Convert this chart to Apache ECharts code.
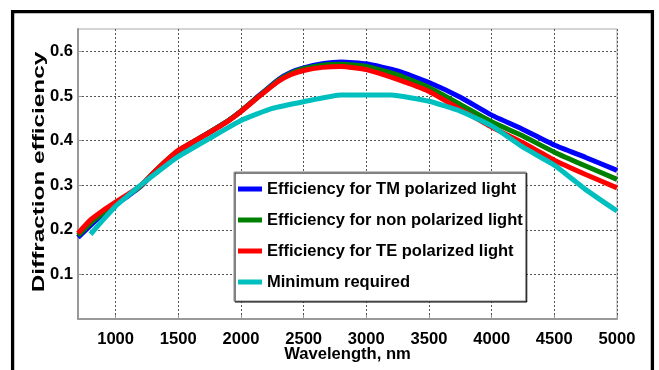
<!DOCTYPE html>
<html>
<head>
<meta charset="utf-8">
<script src="https://cdn.jsdelivr.net/npm/echarts@6/dist/echarts.min.js"></script>
<style>
  html, body { margin: 0; padding: 0; background: #fff; }
  #chart { width: 659px; height: 370px; }
</style>
</head>
<body>
<div id="chart"></div>
<script>
// Wavelength samples (nm) shared by the three simulated efficiency curves
const wavelengths = [700, 800, 900, 1000, 1100, 1200, 1300, 1400, 1500, 1750, 1900, 2000, 2150, 2300, 2400, 2500, 2650, 2800, 3000, 3250, 3500, 3750, 4000, 4250, 4500, 4750, 5000];
const tmValues  = [0.183, 0.210, 0.235, 0.256, 0.276, 0.297, 0.326, 0.353, 0.376, 0.419, 0.445, 0.466, 0.502, 0.537, 0.553, 0.563, 0.572, 0.576, 0.572, 0.556, 0.530, 0.497, 0.457, 0.425, 0.390, 0.362, 0.333];
const nonValues = [0.187, 0.215, 0.238, 0.258, 0.278, 0.298, 0.327, 0.354, 0.377, 0.419, 0.445, 0.466, 0.501, 0.535, 0.551, 0.561, 0.569, 0.571, 0.566, 0.547, 0.519, 0.481, 0.442, 0.410, 0.374, 0.343, 0.313];
const teValues  = [0.192, 0.222, 0.243, 0.262, 0.280, 0.299, 0.327, 0.354, 0.378, 0.418, 0.444, 0.465, 0.500, 0.533, 0.548, 0.557, 0.564, 0.566, 0.559, 0.537, 0.510, 0.470, 0.430, 0.395, 0.356, 0.324, 0.294];

// Minimum required efficiency curve
const minWavelengths = [800, 900, 1000, 1100, 1200, 1350, 1500, 1750, 2000, 2250, 2500, 2800, 3200, 3500, 3750, 4000, 4250, 4500, 4750, 5000];
const minValues      = [0.190, 0.222, 0.253, 0.277, 0.300, 0.333, 0.364, 0.405, 0.445, 0.472, 0.487, 0.502, 0.502, 0.488, 0.466, 0.433, 0.385, 0.345, 0.290, 0.242];

const seriesNames = [
  'Efficiency for TM polarized light',
  'Efficiency for non polarized light',
  'Efficiency for TE polarized light',
  'Minimum required'
];
const seriesColors = ['#0000ff', '#008000', '#ff0000', '#00bfbf'];

const xTicks = [1000, 1500, 2000, 2500, 3000, 3500, 4000, 4500, 5000];
const yTicks = [0.1, 0.2, 0.3, 0.4, 0.5, 0.6];

const FONT = "'Liberation Sans', Arial, Helvetica, sans-serif";

function pairs(xs, ys) {
  return xs.map((x, i) => [x, ys[i]]);
}

const chart = echarts.init(document.getElementById('chart'), null, { renderer: 'canvas' });

const gridLine = { show: true, lineStyle: { color: '#555', width: 1, type: [2, 2] } };

const option = {
  backgroundColor: '#fff',
  animation: false,
  grid: {
    left: 78, top: 29, right: 42, bottom: 51,
    outerBoundsMode: 'none', containLabel: false,
    show: true, borderColor: '#aaa', borderWidth: 1, backgroundColor: '#fff'
  },
  xAxis: {
    type: 'value', min: 700, max: 5000,
    name: 'Wavelength, nm', nameLocation: 'middle', nameGap: 27, nameMoveOverlap: false,
    nameTextStyle: { fontFamily: FONT, fontWeight: 'bold', fontSize: 16.6, color: '#000' },
    axisLine: { show: true, onZero: false, lineStyle: { color: '#999', width: 2 } },
    axisTick: { show: true, inside: true, length: 4, customValues: xTicks, lineStyle: { color: '#999' } },
    axisLabel: { customValues: xTicks, margin: 12, fontFamily: FONT, fontWeight: 'bold', fontSize: 16.6, color: '#000',
      formatter: v => String(v) },
    splitLine: gridLine
  },
  yAxis: {
    type: 'value', min: 0, max: 0.65,
    axisLine: { show: true, onZero: false, lineStyle: { color: '#999', width: 2 } },
    axisTick: { show: true, inside: true, length: 4, customValues: yTicks, lineStyle: { color: '#999' } },
    axisLabel: { customValues: yTicks, margin: 5, fontFamily: FONT, fontWeight: 'bold', fontSize: 16.6, color: '#000',
      formatter: v => v.toFixed(1) },
    splitLine: gridLine
  },
  legend: {
    orient: 'vertical', left: 234, top: 172,
    icon: 'rect', itemWidth: 24, itemHeight: 5, itemGap: 11,
    padding: [7, 3, 9, 4],
    backgroundColor: '#fff', borderColor: '#888', borderWidth: 1,
    shadowColor: '#000', shadowOffsetX: 1, shadowOffsetY: 1, shadowBlur: 0,
    textStyle: { fontFamily: FONT, fontWeight: 'bold', fontSize: 16.5, color: '#000', lineHeight: 20 },
    data: seriesNames
  },
  graphic: [
    {
      type: 'rect', silent: true, z: 100,
      shape: { x: 12.6, y: 11.6, width: 639.8, height: 420 },
      style: { fill: 'none', stroke: '#000', lineWidth: 3.3 }
    },
    {
      type: 'text', silent: true, z: 100,
      x: 39.5, y: 172, rotation: Math.PI / 2, scaleX: 1.52, scaleY: 1,
      style: {
        text: 'Diffraction efficiency', fill: '#000',
        font: "bold 16px 'Liberation Sans', Arial, sans-serif",
        textAlign: 'center', textVerticalAlign: 'middle'
      }
    }
  ],
  series: [
    { name: seriesNames[0], data: pairs(wavelengths, tmValues) },
    { name: seriesNames[1], data: pairs(wavelengths, nonValues) },
    { name: seriesNames[2], data: pairs(wavelengths, teValues) },
    { name: seriesNames[3], data: pairs(minWavelengths, minValues) }
  ].map((s, i) => Object.assign(s, {
    type: 'line', showSymbol: false, smooth: 0.15,
    itemStyle: { color: seriesColors[i] },
    lineStyle: { color: seriesColors[i], width: 5 },
    z: 2 + i
  }))
};

chart.setOption(option);
</script>
</body>
</html>
